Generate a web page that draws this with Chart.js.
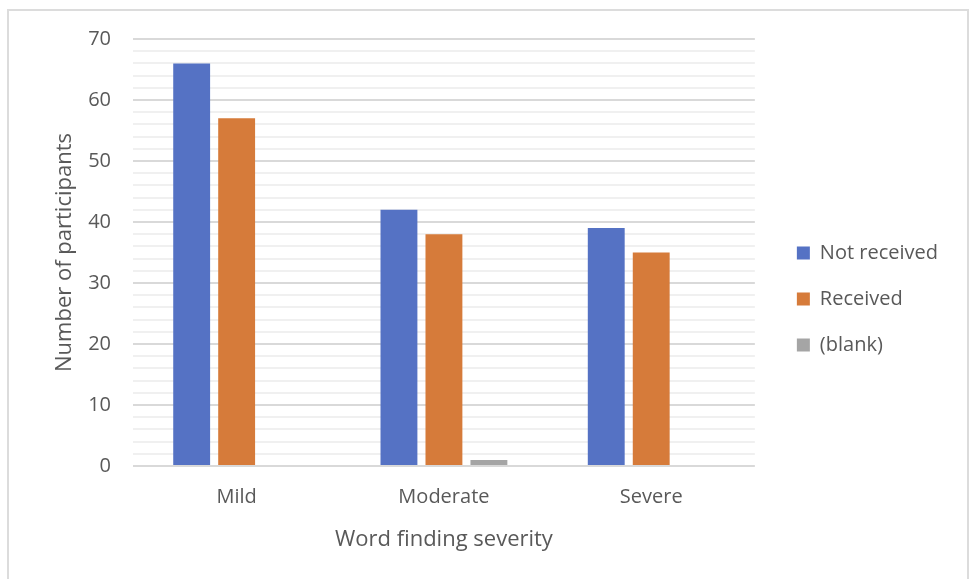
<!DOCTYPE html>
<html>
<head>
<meta charset="utf-8">
<script src="https://cdn.jsdelivr.net/npm/chart.js@4/dist/chart.umd.min.js"></script>
<style>
  html, body { margin: 0; padding: 0; background: #ffffff; overflow: hidden; }
  #frame { position: absolute; left: 7px; top: 9px; width: 962px; height: 620px;
           border: 2px solid #dcdcdc; box-sizing: border-box; }
  #c { position: absolute; left: 0; top: 0; }
</style>
</head>
<body>
<div id="frame"></div>
<canvas id="c" width="971" height="579"></canvas>
<script>
// Participants by word finding severity
const categories = ['Mild', 'Moderate', 'Severe'];
const notReceived = [66, 42, 39];
const received = [57, 38, 35];
const blank = [0, 1, 0];
const seriesNames = ['Not received', 'Received', '(blank)'];
const yTicks = [0, 10, 20, 30, 40, 50, 60, 70];

const FONT = '"Open Sans", Lato, sans-serif';
const TEXT = '#595959';

// nudge the legend away from the plot area
const legendShift = {
  id: 'legendShift',
  afterLayout(chart) {
    const lg = chart.legend;
    if (!lg) return;
    lg.left += 16; lg.right += 16;
    lg.top -= 10; lg.bottom -= 10;
  }
};

new Chart(document.getElementById('c'), {
  type: 'bar',
  data: {
    labels: categories,
    datasets: [
      { label: seriesNames[0], data: notReceived, backgroundColor: '#5572c4' },
      { label: seriesNames[1], data: received, backgroundColor: '#d67b3a' },
      { label: seriesNames[2], data: blank, backgroundColor: '#a5a5a5' }
    ]
  },
  options: {
    responsive: false,
    animation: false,
    categoryPercentage: 0.651,
    barPercentage: 0.82,
    layout: { padding: { top: 39, left: 0, right: 39, bottom: 0 } },
    plugins: {
      tooltip: { enabled: false },
      legend: {
        position: 'right',
        labels: {
          boxWidth: 13, boxHeight: 13, padding: 26,
          color: TEXT, font: { family: FONT, size: 20 }
        }
      }
    },
    scales: {
      x: {
        grid: { display: false, drawTicks: false },
        border: { display: false },
        ticks: { color: TEXT, font: { family: FONT, size: 20 }, padding: 19 },
        title: { display: true, text: 'Word finding severity', color: TEXT,
                 font: { family: FONT, size: 22 }, padding: { top: 0, bottom: 26 } },
        afterFit(s) { s.height = 579 - 466; }
      },
      y: {
        min: 0, max: 70,
        border: { display: false },
        grid: {
          drawTicks: false,
          lineWidth: 2,
          color: ctx => (ctx.tick && yTicks.includes(ctx.tick.value)) ? '#d9d9d9' : '#f0f0f0'
        },
        ticks: {
          stepSize: 2, autoSkip: false, padding: 22,
          color: TEXT, font: { family: FONT, size: 20 },
          callback: v => yTicks.includes(v) ? String(v) : ''
        },
        title: { display: true, text: 'Number of participants', color: TEXT,
                 font: { family: FONT, size: 22 }, padding: { top: 52, bottom: 0 } },
        afterFit(s) { s.width = 133; }
      }
    }
  },
  plugins: [legendShift]
});
</script>
</body>
</html>
